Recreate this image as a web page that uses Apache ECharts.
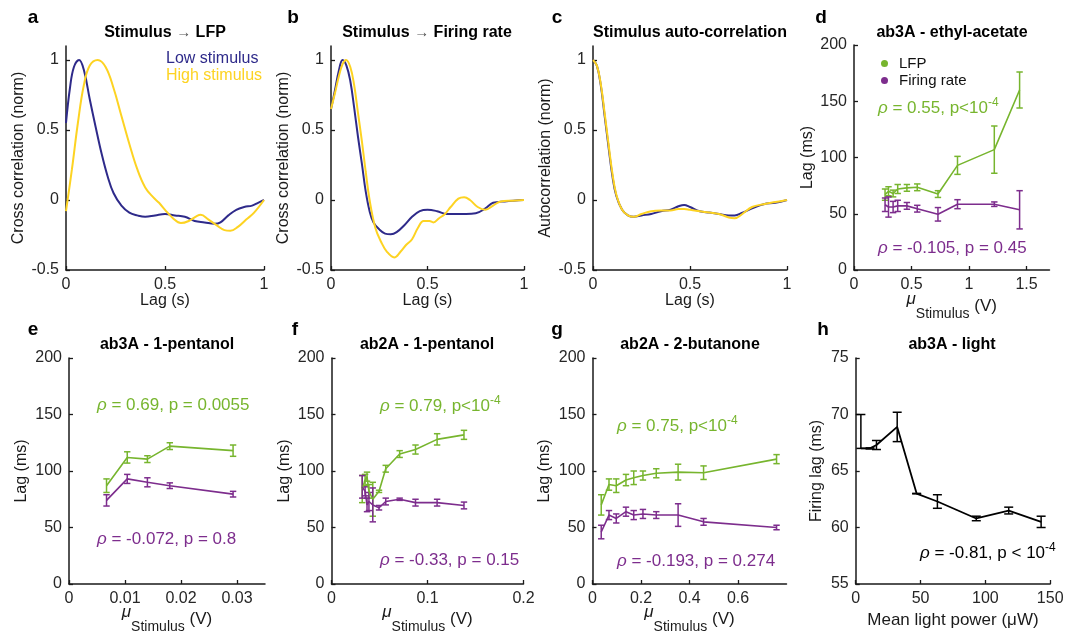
<!DOCTYPE html>
<html><head><meta charset="utf-8">
<script src="https://cdn.jsdelivr.net/npm/echarts@6/dist/echarts.min.js"></script>
<style>html,body{margin:0;padding:0;background:#fff}#chart{width:1067px;height:633px}</style>
</head><body><div id="chart"></div>
<script>
// ---------------- data ----------------
// a: Stimulus -> LFP
const aLowLag  = [0, 0.02, 0.04, 0.066, 0.09, 0.12, 0.15, 0.18, 0.21, 0.24, 0.28, 0.32, 0.36, 0.40, 0.45, 0.50, 0.55, 0.60, 0.65, 0.70, 0.75, 0.78, 0.82, 0.86, 0.90, 0.94, 0.97, 1.0];
const aLowVal  = [0.55, 0.8, 0.95, 1.0, 0.93, 0.72, 0.52, 0.33, 0.17, 0.05, -0.04, -0.09, -0.11, -0.12, -0.11, -0.10, -0.11, -0.12, -0.15, -0.16, -0.17, -0.16, -0.11, -0.07, -0.05, -0.04, -0.02, 0.0];
const aHighLag = [0, 0.03, 0.06, 0.09, 0.12, 0.16, 0.20, 0.24, 0.28, 0.32, 0.36, 0.40, 0.44, 0.47, 0.50, 0.54, 0.58, 0.62, 0.66, 0.68, 0.72, 0.76, 0.80, 0.83, 0.87, 0.91, 0.95, 1.0];
const aHighVal = [-0.08, 0.22, 0.55, 0.82, 0.96, 1.0, 0.95, 0.8, 0.6, 0.4, 0.22, 0.09, 0.02, -0.02, -0.07, -0.13, -0.165, -0.15, -0.115, -0.105, -0.14, -0.18, -0.215, -0.22, -0.19, -0.14, -0.09, 0.0];
// b: Stimulus -> Firing rate
const bLowLag  = [0, 0.02, 0.04, 0.06, 0.08, 0.10, 0.12, 0.14, 0.16, 0.18, 0.20, 0.22, 0.25, 0.28, 0.31, 0.34, 0.38, 0.42, 0.46, 0.50, 0.55, 0.60, 0.65, 0.70, 0.75, 0.80, 0.84, 0.90, 1.0];
const bLowVal  = [0.65, 0.78, 0.92, 1.0, 0.96, 0.85, 0.66, 0.45, 0.26, 0.06, -0.08, -0.16, -0.21, -0.24, -0.245, -0.23, -0.18, -0.12, -0.08, -0.07, -0.08, -0.1, -0.1, -0.1, -0.095, -0.06, -0.02, -0.01, 0];
const bHighLag = [0, 0.02, 0.04, 0.06, 0.078, 0.10, 0.12, 0.14, 0.16, 0.18, 0.20, 0.23, 0.26, 0.29, 0.328, 0.36, 0.39, 0.42, 0.45, 0.48, 0.51, 0.53, 0.56, 0.59, 0.62, 0.66, 0.69, 0.72, 0.76, 0.80, 0.84, 0.88, 0.94, 1.0];
const bHighVal = [0.65, 0.76, 0.88, 0.97, 1.0, 0.95, 0.82, 0.62, 0.42, 0.2, 0.0, -0.2, -0.3, -0.37, -0.41, -0.37, -0.32, -0.28, -0.2, -0.15, -0.15, -0.16, -0.13, -0.1, -0.05, 0.01, 0.02, 0.0, -0.05, -0.07, -0.04, -0.01, -0.005, 0];
// c: Stimulus auto-correlation
const cLag     = [0, 0.02, 0.04, 0.06, 0.08, 0.10, 0.12, 0.15, 0.18, 0.21, 0.25, 0.30, 0.35, 0.40, 0.44, 0.47, 0.50, 0.55, 0.60, 0.65, 0.70, 0.73, 0.77, 0.82, 0.88, 0.94, 1.0];
const cLowVal  = [1.0, 0.96, 0.82, 0.6, 0.38, 0.17, 0.03, -0.07, -0.11, -0.12, -0.11, -0.10, -0.08, -0.07, -0.045, -0.035, -0.05, -0.08, -0.09, -0.1, -0.11, -0.11, -0.09, -0.06, -0.03, -0.02, 0];
const cHighVal = [1.0, 0.96, 0.83, 0.62, 0.4, 0.19, 0.04, -0.07, -0.11, -0.12, -0.1, -0.08, -0.075, -0.075, -0.065, -0.065, -0.07, -0.08, -0.09, -0.1, -0.125, -0.13, -0.1, -0.05, -0.03, -0.015, 0];
// d: ab3A - ethyl-acetate
const dStim      = [0.27, 0.30, 0.34, 0.38, 0.46, 0.55, 0.73, 0.90, 1.22, 1.44];
const dLfp       = [67, 70, 68, 72, 73, 73.5, 67.5, 93, 107, 160];
const dLfpErr    = [5, 4, 3, 4, 3, 3, 3, 8, 21, 16];
const dFiring    = [58, 56, 56, 57, 57, 54.5, 49.5, 58.5, 58.5, 53.5];
const dFiringErr = [6, 9, 5, 5, 3, 3, 6, 4, 2, 17];
// e: ab3A - 1-pentanol
const eStim      = [0.0067, 0.0104, 0.0140, 0.0180, 0.0293];
const eLfp       = [87, 112, 110.5, 122, 118];
const eLfpErr    = [6, 5, 3, 3, 5];
const eFiring    = [74, 93, 90, 87, 79.5];
const eFiringErr = [5, 4, 4, 2.5, 2.5];
// f: ab2A - 1-pentanol
const fStim      = [0.032, 0.035, 0.037, 0.039, 0.043, 0.0495, 0.0565, 0.071, 0.0875, 0.110, 0.138];
const fLfp       = [84, 92, 95, 82, 75, 82, 102, 115, 119, 128, 132];
const fLfpErr    = [12, 5, 4, 6, 15, 1, 3, 3, 4, 5, 4];
const fFiring    = [86, 82, 70, 73, 70, 67.5, 73, 75, 72, 72, 69.5];
const fFiringErr = [10, 4, 6, 8, 15, 2, 3, 1, 3, 3, 3];
// g: ab2A - 2-butanone
const gStim      = [0.036, 0.068, 0.098, 0.138, 0.170, 0.208, 0.263, 0.353, 0.458, 0.759];
const gLfp       = [70, 88, 87, 92, 94, 96, 98, 99, 98.5, 110.5];
const gLfpErr    = [9, 5, 6, 5, 6, 4, 4, 7, 6, 4];
const gFiring    = [46, 61, 58, 64, 61, 62, 61, 61, 55, 50];
const gFiringErr = [6, 4, 4, 4, 4, 4, 3, 10, 3, 2];
// h: ab3A - light
const hPower   = [4, 11, 16, 32, 47, 63, 93, 118, 143];
const hLag     = [67, 67, 67.3, 68.9, 63, 62.3, 60.8, 61.5, 60.5];
const hErrUp   = [3, 0.05, 0.4, 1.3, 0.02, 0.6, 0.2, 0.3, 0.5];
const hErrDown = [0, 0.05, 0.4, 1.3, 0.02, 0.6, 0.2, 0.3, 0.5];
// ticks
const corrTicks   = [-0.5, 0, 0.5, 1];
const lagTicks    = [0, 0.5, 1];
const msTicks     = [0, 50, 100, 150, 200];
const dStimTicks  = [0, 0.5, 1, 1.5];
const eStimTicks  = [0, 0.01, 0.02, 0.03];
const fStimTicks  = [0, 0.1, 0.2];
const gStimTicks  = [0, 0.2, 0.4, 0.6];
const hPowerTicks = [0, 50, 100, 150];
const hLagTicks   = [55, 60, 65, 70, 75];

// ---------------- styles ----------------
const FONT = '"Liberation Sans", Arial, Helvetica, sans-serif';
const NAVY = '#2e2a8a', YELLOW = '#fdd322', GREEN = '#77b52e', PURPLE = '#7d2d8d', INK = '#1a1a1a';

function axis(gi, min, max, ticks, name, gap, extra) {
  return Object.assign({
    type: 'value', gridIndex: gi, min: min, max: max,
    name: name, nameLocation: 'middle', nameGap: gap, nameMoveOverlap: false,
    nameTextStyle: {fontFamily: FONT, fontSize: 16, color: INK},
    axisLine: {show: true, onZero: false, lineStyle: {color: INK, width: 1.5}},
    axisTick: {show: true, inside: true, length: 4, customValues: ticks, lineStyle: {color: INK, width: 1.3}},
    axisLabel: {customValues: ticks, fontFamily: FONT, fontSize: 16, color: '#262626', margin: 7},
    splitLine: {show: false}
  }, extra || {});
}
const muRich = {
  m: {fontFamily: FONT, fontSize: 17, fontStyle: 'italic', color: INK, padding: [0, 0, 14, 0]},
  s: {fontFamily: FONT, fontSize: 14, color: INK, padding: [16, 0, 0, 0]},
  n: {fontFamily: FONT, fontSize: 17, color: INK}
};
const muName = '{m|μ}{s|Stimulus}{n| (V)}';
function xMu(gi, max, ticks, gap) {
  return axis(gi, 0, max, ticks, muName, gap, {
    nameTextStyle: {fontFamily: FONT, fontSize: 17, color: INK, rich: muRich}
  });
}

function lineSeries(name, gi, xs, ys, color, width, smooth) {
  return {
    name: name, type: 'line', xAxisIndex: gi, yAxisIndex: gi,
    data: xs.map((x, i) => [x, ys[i]]),
    symbol: 'none', smooth: smooth || false, silent: true,
    lineStyle: {color: color, width: width}, itemStyle: {color: color}, z: 3
  };
}
function errSeries(gi, xs, lows, highs, color, cap) {
  return {
    type: 'custom', xAxisIndex: gi, yAxisIndex: gi, silent: true, z: 3,
    data: xs.map((x, i) => [x, lows[i], highs[i]]),
    encode: {x: 0, y: [1, 2]},
    renderItem: function (params, api) {
      const x = api.value(0);
      const p = api.coord([x, api.value(1)]);
      const q = api.coord([x, api.value(2)]);
      const st = {stroke: color, lineWidth: 1.5};
      return {type: 'group', children: [
        {type: 'line', shape: {x1: p[0], y1: p[1], x2: q[0], y2: q[1]}, style: st},
        {type: 'line', shape: {x1: p[0] - cap, y1: p[1], x2: p[0] + cap, y2: p[1]}, style: st},
        {type: 'line', shape: {x1: q[0] - cap, y1: q[1], x2: q[0] + cap, y2: q[1]}, style: st}
      ]};
    }
  };
}
function errGroup(gi, xs, vals, errs, color, name) {
  return [
    lineSeries(name, gi, xs, vals, color, 1.6, false),
    errSeries(gi, xs, vals.map((v, i) => v - errs[i]), vals.map((v, i) => v + errs[i]), color, 3.2)
  ];
}

function txt(text, x, y, extra) {
  return Object.assign({
    text: text, left: x, top: y, padding: 0, textAlign: 'center', textVerticalAlign: 'middle',
    textStyle: {fontFamily: FONT, fontSize: 16, fontWeight: 'bold', color: '#000'}
  }, extra || {});
}
function arrowTitle(a, b, x, y) {
  return txt('{t|' + a + ' }{r|→}{t| ' + b + '}', x, y, {textStyle: {
    fontFamily: FONT, fontSize: 16, fontWeight: 'bold', color: '#000',
    rich: {
      t: {fontFamily: FONT, fontSize: 16, fontWeight: 'bold', color: '#000'},
      r: {fontFamily: FONT, fontSize: 15, fontWeight: 'normal', color: '#555'}
    }
  }});
}
function annRich(color) {
  return {
    r: {fontFamily: FONT, fontSize: 17, fontStyle: 'italic', fontWeight: 'normal', color: color},
    b: {fontFamily: FONT, fontSize: 17, fontWeight: 'normal', color: color},
    p: {fontFamily: FONT, fontSize: 12, fontWeight: 'normal', color: color, padding: [0, 0, 11, 0]}
  };
}
function ann(text, x, y, color) {
  return txt(text, x, y, {textAlign: 'left', textStyle: {fontFamily: FONT, fontSize: 17, fontWeight: 'normal', color: color, rich: annRich(color)}});
}
function plain(text, x, y, color) {
  return txt(text, x, y, {textAlign: 'left', textStyle: {fontFamily: FONT, fontSize: 16, fontWeight: 'normal', color: color}});
}
function letter(text, x, y) {
  return txt(text, x, y, {textStyle: {fontFamily: FONT, fontSize: 19, fontWeight: 'bold', color: '#000'}});
}

const noBounds = {containLabel: false, outerBoundsMode: 'none'};
const option = {
  animation: false,
  backgroundColor: '#fff',
  grid: [
    Object.assign({left: 66, top: 46, width: 198, height: 224}, noBounds),
    Object.assign({left: 331, top: 46, width: 193, height: 224}, noBounds),
    Object.assign({left: 593, top: 46, width: 194, height: 224}, noBounds),
    Object.assign({left: 854, top: 45, width: 195.5, height: 225}, noBounds),
    Object.assign({left: 69, top: 358, width: 196, height: 226}, noBounds),
    Object.assign({left: 331.5, top: 358, width: 192, height: 226}, noBounds),
    Object.assign({left: 592.5, top: 358, width: 194, height: 226}, noBounds),
    Object.assign({left: 855.7, top: 358, width: 194.5, height: 226}, noBounds)
  ],
  xAxis: [
    axis(0, 0, 1, lagTicks, 'Lag (s)', 23),
    axis(1, 0, 1, lagTicks, 'Lag (s)', 23),
    axis(2, 0, 1, lagTicks, 'Lag (s)', 23),
    xMu(3, 1.7, dStimTicks, 21),
    xMu(4, 0.035, eStimTicks, 20),
    xMu(5, 0.2, fStimTicks, 20),
    xMu(6, 0.8, gStimTicks, 20),
    axis(7, 0, 150, hPowerTicks, 'Mean light power (μW)', 28, {nameTextStyle: {fontFamily: FONT, fontSize: 17, color: INK}})
  ],
  yAxis: [
    axis(0, -0.5, 1.1, corrTicks, 'Cross correlation (norm)', 39),
    axis(1, -0.5, 1.1, corrTicks, 'Cross correlation (norm)', 39),
    axis(2, -0.5, 1.1, corrTicks, 'Autocorrelation (norm)', 39),
    axis(3, 0, 200, msTicks, 'Lag (ms)', 38),
    axis(4, 0, 200, msTicks, 'Lag (ms)', 39),
    axis(5, 0, 200, msTicks, 'Lag (ms)', 39),
    axis(6, 0, 200, msTicks, 'Lag (ms)', 40),
    axis(7, 55, 75, hLagTicks, 'Firing lag (ms)', 31)
  ],
  legend: {
    left: 876, top: 51, orient: 'vertical', itemWidth: 7, itemHeight: 7, itemGap: 2,
    selectedMode: false,
    data: [{name: 'LFP', icon: 'circle'}, {name: 'Firing rate', icon: 'circle'}],
    textStyle: {fontFamily: FONT, fontSize: 15, color: '#111', padding: [0, 0, 0, 6]}
  },
  title: [
    letter('a', 33, 18), letter('b', 293, 18), letter('c', 557, 18), letter('d', 821, 18),
    letter('e', 33, 330), letter('f', 295, 330), letter('g', 557, 330), letter('h', 823, 330),
    arrowTitle('Stimulus', 'LFP', 165, 33),
    arrowTitle('Stimulus', 'Firing rate', 427, 33),
    txt('Stimulus auto-correlation', 690, 33),
    txt('ab3A - ethyl-acetate', 952, 33),
    txt('ab3A - 1-pentanol', 167, 345),
    txt('ab2A - 1-pentanol', 427, 345),
    txt('ab2A - 2-butanone', 690, 345),
    txt('ab3A - light', 952, 345),
    plain('Low stimulus', 166, 59, NAVY),
    plain('High stimulus', 166, 76, YELLOW),
    ann('{r|ρ}{b| = 0.55, p<10}{p|-4}', 878, 108, GREEN),
    ann('{r|ρ}{b| = -0.105, p = 0.45}', 878, 248, PURPLE),
    ann('{r|ρ}{b| = 0.69, p = 0.0055}', 97, 405, GREEN),
    ann('{r|ρ}{b| = -0.072, p = 0.8}', 97, 539, PURPLE),
    ann('{r|ρ}{b| = 0.79, p<10}{p|-4}', 380, 406, GREEN),
    ann('{r|ρ}{b| = -0.33, p = 0.15}', 380, 560, PURPLE),
    ann('{r|ρ}{b| = 0.75, p<10}{p|-4}', 617, 426, GREEN),
    ann('{r|ρ}{b| = -0.193, p = 0.274}', 617, 561, PURPLE),
    ann('{r|ρ}{b| = -0.81, p < 10}{p|-4}', 920, 553, '#000')
  ],
  series: [].concat(
    lineSeries('Low stimulus', 0, aLowLag, aLowVal, NAVY, 2, 0.4),
    lineSeries('High stimulus', 0, aHighLag, aHighVal, YELLOW, 2, 0.4),
    lineSeries('Low stimulus', 1, bLowLag, bLowVal, NAVY, 2, 0.4),
    lineSeries('High stimulus', 1, bHighLag, bHighVal, YELLOW, 2, 0.4),
    lineSeries('Low stimulus', 2, cLag, cLowVal, NAVY, 2, 0.4),
    lineSeries('High stimulus', 2, cLag, cHighVal, YELLOW, 2, 0.4),
    errGroup(3, dStim, dLfp, dLfpErr, GREEN, 'LFP'),
    errGroup(3, dStim, dFiring, dFiringErr, PURPLE, 'Firing rate'),
    errGroup(4, eStim, eLfp, eLfpErr, GREEN, 'LFP'),
    errGroup(4, eStim, eFiring, eFiringErr, PURPLE, 'Firing rate'),
    errGroup(5, fStim, fLfp, fLfpErr, GREEN, 'LFP'),
    errGroup(5, fStim, fFiring, fFiringErr, PURPLE, 'Firing rate'),
    errGroup(6, gStim, gLfp, gLfpErr, GREEN, 'LFP'),
    errGroup(6, gStim, gFiring, gFiringErr, PURPLE, 'Firing rate'),
    lineSeries('Firing lag', 7, hPower, hLag, '#000', 1.8, false),
    errSeries(7, hPower, hLag.map((v, i) => v - hErrDown[i]), hLag.map((v, i) => v + hErrUp[i]), '#000', 4.5)
  )
};
const chart = echarts.init(document.getElementById('chart'), null, {renderer: 'canvas'});
chart.setOption(option);
</script></body></html>
